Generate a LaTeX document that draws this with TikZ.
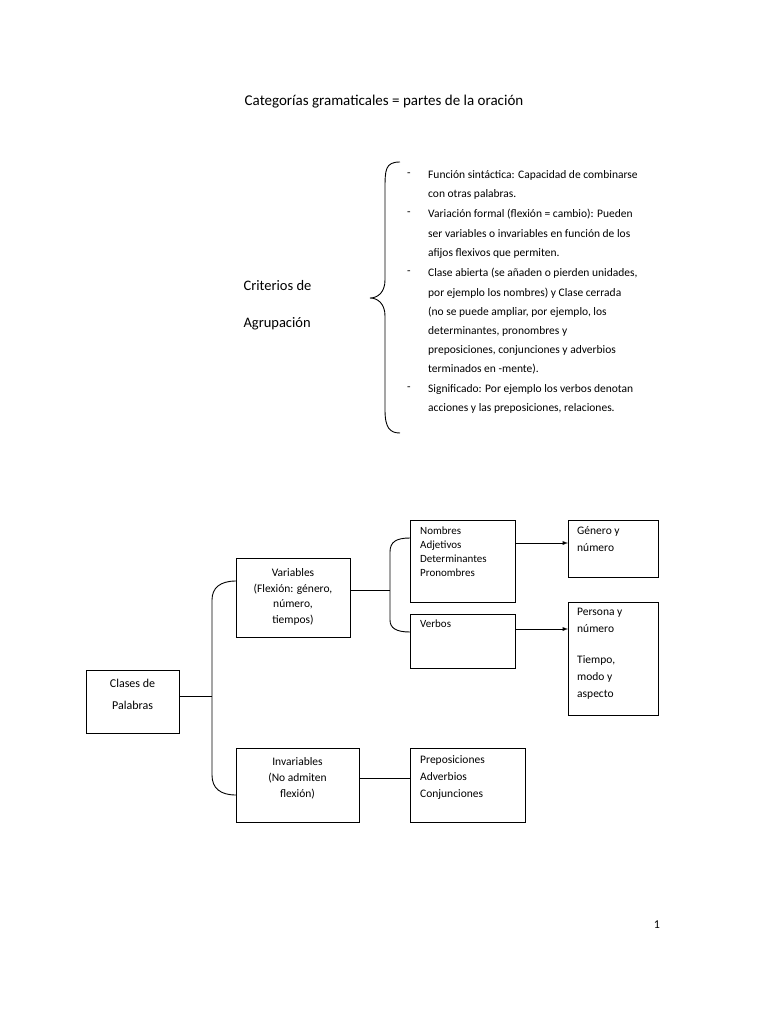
\documentclass[tikz,border=0pt]{standalone}
\usepackage{fontspec}
\setmainfont{Carlito}
\usetikzlibrary{decorations.pathreplacing}
\begin{document}
\begin{tikzpicture}[x=1pt,y=-1pt,
  bx/.style={draw,line width=0.9pt,inner sep=0pt},
  ln/.style={line width=0.9pt},
  tx/.style={font=\fontsize{11}{14}\selectfont,align=left,anchor=north west,inner sep=0pt},
  bl/.style={font=\fontsize{11.5}{19.5}\selectfont,anchor=west,inner sep=0pt}]
\useasboundingbox (0,0) rectangle (768,1024);
\node[font=\fontsize{15}{18}\selectfont] (title) at (384,102) {Categorías gramaticales = partes de la oración};
\node[font=\fontsize{14.5}{18}\selectfont,anchor=west] (c1) at (240,286) {Criterios de};
\node[font=\fontsize{14.5}{18}\selectfont,anchor=west] (c2) at (240,324) {Agrupación};
\draw[ln] (400,162) .. controls (385,162) and (385,170) .. (385,190) -- (385,280) .. controls (385,292) and (378,298) .. (370,298)
  .. controls (378,298) and (385,304) .. (385,316) -- (385,410) .. controls (385,428) and (390,433) .. (400,433);
\foreach \y/\t in {175/{-},214/{-},273/{-},389/{-}} \node[bl] at (407,\y) {\t};
\foreach \y/\t in {175/{Función sintáctica: Capacidad de combinarse},194/{con otras palabras.},214/{Variación formal (flexión = cambio): Pueden},234/{ser variables o invariables en función de los},254/{afijos flexivos que permiten.},273/{Clase abierta (se añaden o pierden unidades,},293/{por ejemplo los nombres) y Clase cerrada},312/{(no se puede ampliar, por ejemplo, los},331/{determinantes, pronombres y},350/{preposiciones, conjunciones y adverbios},369/{terminados en -mente).},389/{Significado: Por ejemplo los verbos denotan},408/{acciones y las preposiciones, relaciones.}}
  \node[bl] at (428,\y) {\t};
% boxes
\draw[bx] (86,670) rectangle (179,733);
\node[font=\fontsize{12}{22}\selectfont,align=center] (cl) at (132.5,694) {Clases de\\Palabras};
\coordinate (clr) at (179,696);
\draw[bx] (236,558) rectangle (350,637);
\node[font=\fontsize{11.5}{15.5}\selectfont,align=center] (va) at (293,597) {Variables\\(Flexión: género,\\número,\\tiempos)};
\draw[bx] (236,748) rectangle (359,822);
\node[font=\fontsize{11.5}{16}\selectfont,align=center] (in) at (297.5,778) {Invariables\\(No admiten\\flexión)};
\draw[bx] (410,520) rectangle (515,602);
\node[tx] (no) at (420,527) {Nombres\\Adjetivos\\Determinantes\\Pronombres};
\draw[bx] (410,614) rectangle (515,668);
\node[tx] (ve) at (420,620) {Verbos};
\draw[bx] (568,520) rectangle (658,577);
\node[tx,font=\fontsize{11.5}{17}\selectfont] (ge) at (577,526) {Género y\\número};
\draw[bx] (568,602) rectangle (658,715);
\node[tx,font=\fontsize{11.5}{17}\selectfont] (pe) at (577,608) {Persona y\\número\\[14pt]Tiempo,\\modo y\\aspecto};
\draw[bx] (410,748) rectangle (525,822);
\node[tx,font=\fontsize{11.5}{17}\selectfont] (pr) at (420,755) {Preposiciones\\Adverbios\\Conjunciones};
% connectors
\draw[ln] (179,696) -- (212,696);
\draw[ln] (236,581) .. controls (220,581) and (212,588) .. (212,600) -- (212,775) .. controls (212,788) and (220,795) .. (236,795);
\draw[ln] (350,590) -- (390,590);
\draw[ln] (410,538) .. controls (396,538) and (390,542) .. (390,552) -- (390,620) .. controls (390,628) and (396,632) .. (410,632);
\draw[ln,-latex] (515,543) -- (568,543);
\draw[ln,-latex] (515,629) -- (568,629);
\draw[ln] (359,778) -- (410,778);
\node[font=\fontsize{12}{14}\selectfont] (pg) at (657,925) {1};
\end{tikzpicture}
\end{document}
